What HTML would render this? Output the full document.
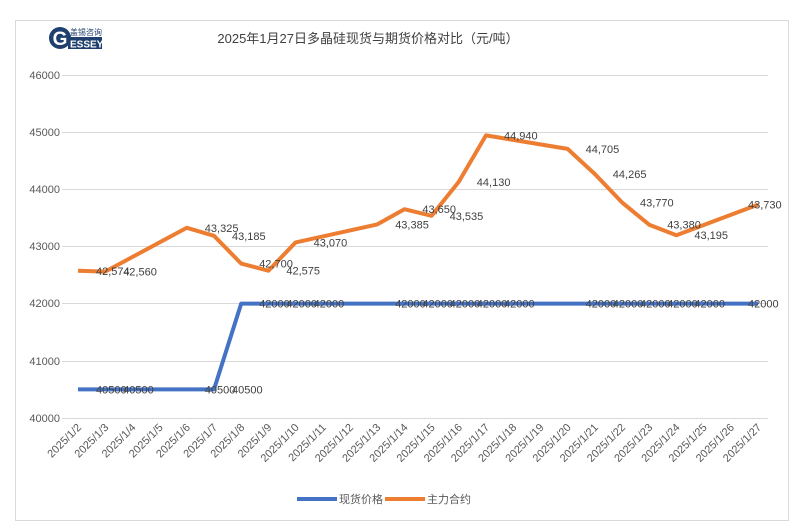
<!DOCTYPE html>
<html><head><meta charset="utf-8"><style>
body{margin:0;background:#fff;}
svg{display:block;font-family:"Liberation Sans","Noto Sans CJK SC",sans-serif;}
</style></head><body>
<svg width="807" height="532" viewBox="0 0 807 532" xmlns="http://www.w3.org/2000/svg">
<rect x="15.5" y="20.5" width="773" height="500" fill="#fff" stroke="#d9d9d9"/>
<g>
<ellipse cx="60" cy="38" rx="11" ry="11" fill="#1f3f6e"/>
<text x="60" y="45" font-size="19" font-weight="bold" fill="#fff" text-anchor="middle">G</text>
<rect x="68" y="37" width="34" height="12" fill="#1f3f6e"/>
<text x="70" y="47.5" font-size="10" font-weight="bold" fill="#fff">ESSEY</text>
<text x="70" y="35" font-size="8" fill="#1f3f6e">盖锡咨询</text>
</g>
<text x="368" y="43" font-size="13" fill="#404040" text-anchor="middle">2025年1月27日多晶硅现货与期货价格对比（元/吨）</text>
<g stroke="#d9d9d9" stroke-width="1">
<line x1="62" y1="75.5" x2="768" y2="75.5"/>
<line x1="62" y1="132.5" x2="768" y2="132.5"/>
<line x1="62" y1="189.5" x2="768" y2="189.5"/>
<line x1="62" y1="246.5" x2="768" y2="246.5"/>
<line x1="62" y1="303.5" x2="768" y2="303.5"/>
<line x1="62" y1="361.5" x2="768" y2="361.5"/>
<line x1="62" y1="418.5" x2="768" y2="418.5"/>
</g>
<g font-size="11" fill="#595959" text-anchor="end">
<text x="60" y="79">46000</text><text x="60" y="136">45000</text><text x="60" y="193">44000</text>
<text x="60" y="250">43000</text><text x="60" y="307">42000</text><text x="60" y="365">41000</text><text x="60" y="422">40000</text>
</g>
<g font-size="11" fill="#595959" text-anchor="end">
<text x="82" y="428" transform="rotate(-45 82 428)">2025/1/2</text>
<text x="109.2" y="428" transform="rotate(-45 109.2 428)">2025/1/3</text>
<text x="136.4" y="428" transform="rotate(-45 136.4 428)">2025/1/4</text>
<text x="163.6" y="428" transform="rotate(-45 163.6 428)">2025/1/5</text>
<text x="190.8" y="428" transform="rotate(-45 190.8 428)">2025/1/6</text>
<text x="218" y="428" transform="rotate(-45 218 428)">2025/1/7</text>
<text x="245.2" y="428" transform="rotate(-45 245.2 428)">2025/1/8</text>
<text x="272.4" y="428" transform="rotate(-45 272.4 428)">2025/1/9</text>
<text x="299.6" y="428" transform="rotate(-45 299.6 428)">2025/1/10</text>
<text x="326.8" y="428" transform="rotate(-45 326.8 428)">2025/1/11</text>
<text x="354" y="428" transform="rotate(-45 354 428)">2025/1/12</text>
<text x="381.2" y="428" transform="rotate(-45 381.2 428)">2025/1/13</text>
<text x="408.4" y="428" transform="rotate(-45 408.4 428)">2025/1/14</text>
<text x="435.6" y="428" transform="rotate(-45 435.6 428)">2025/1/15</text>
<text x="462.8" y="428" transform="rotate(-45 462.8 428)">2025/1/16</text>
<text x="490" y="428" transform="rotate(-45 490 428)">2025/1/17</text>
<text x="517.2" y="428" transform="rotate(-45 517.2 428)">2025/1/18</text>
<text x="544.4" y="428" transform="rotate(-45 544.4 428)">2025/1/19</text>
<text x="571.6" y="428" transform="rotate(-45 571.6 428)">2025/1/20</text>
<text x="598.8" y="428" transform="rotate(-45 598.8 428)">2025/1/21</text>
<text x="626" y="428" transform="rotate(-45 626 428)">2025/1/22</text>
<text x="653.2" y="428" transform="rotate(-45 653.2 428)">2025/1/23</text>
<text x="680.4" y="428" transform="rotate(-45 680.4 428)">2025/1/24</text>
<text x="707.6" y="428" transform="rotate(-45 707.6 428)">2025/1/25</text>
<text x="734.8" y="428" transform="rotate(-45 734.8 428)">2025/1/26</text>
<text x="762" y="428" transform="rotate(-45 762 428)">2025/1/27</text>
</g>
<polyline fill="none" stroke="#4472c4" stroke-width="4" stroke-linejoin="round" points="78,389.4 105.2,389.4 186.8,389.4 214,389.4 241.2,303.6 268.4,303.6 295.6,303.6 377.2,303.6 404.4,303.6 431.6,303.6 458.8,303.6 486,303.6 567.6,303.6 594.8,303.6 622,303.6 649.2,303.6 676.4,303.6 758,303.6"/>
<polyline fill="none" stroke="#ed7d31" stroke-width="4" stroke-linejoin="round" points="78,270.8 105.2,271.6 186.8,227.8 214,235.8 241.2,263.6 268.4,270.7 295.6,242.4 377.2,224.4 404.4,209.2 431.6,215.8 458.8,181.8 486,135.4 567.6,148.9 594.8,174 622,202.4 649.2,224.7 676.4,235.2 758,204.6"/>
<g font-size="11" fill="#404040">
<text x="96" y="274.8">42,574</text>
<text x="123.2" y="275.6">42,560</text>
<text x="204.8" y="231.8">43,325</text>
<text x="232" y="239.8">43,185</text>
<text x="259.2" y="267.6">42,700</text>
<text x="286.4" y="274.7">42,575</text>
<text x="313.6" y="246.4">43,070</text>
<text x="395.2" y="228.4">43,385</text>
<text x="422.4" y="213.2">43,650</text>
<text x="449.6" y="219.8">43,535</text>
<text x="476.8" y="185.8">44,130</text>
<text x="504" y="139.4">44,940</text>
<text x="585.6" y="152.9">44,705</text>
<text x="612.8" y="178">44,265</text>
<text x="640" y="206.4">43,770</text>
<text x="667.2" y="228.7">43,380</text>
<text x="694.4" y="239.2">43,195</text>
<text x="748" y="208.6">43,730</text>
<text x="96" y="393.4">40500</text>
<text x="123.2" y="393.4">40500</text>
<text x="204.8" y="393.4">40500</text>
<text x="232" y="393.4">40500</text>
<text x="259.2" y="307.6">42000</text>
<text x="286.4" y="307.6">42000</text>
<text x="313.6" y="307.6">42000</text>
<text x="395.2" y="307.6">42000</text>
<text x="422.4" y="307.6">42000</text>
<text x="449.6" y="307.6">42000</text>
<text x="476.8" y="307.6">42000</text>
<text x="504" y="307.6">42000</text>
<text x="585.6" y="307.6">42000</text>
<text x="612.8" y="307.6">42000</text>
<text x="640" y="307.6">42000</text>
<text x="667.2" y="307.6">42000</text>
<text x="694.4" y="307.6">42000</text>
<text x="748" y="307.6">42000</text>
</g>
<line x1="297" y1="499" x2="337" y2="499" stroke="#4472c4" stroke-width="4"/>
<text x="339" y="503" font-size="11" fill="#595959">现货价格</text>
<line x1="385" y1="499" x2="425" y2="499" stroke="#ed7d31" stroke-width="4"/>
<text x="427" y="503" font-size="11" fill="#595959">主力合约</text>
</svg>
</body></html>
